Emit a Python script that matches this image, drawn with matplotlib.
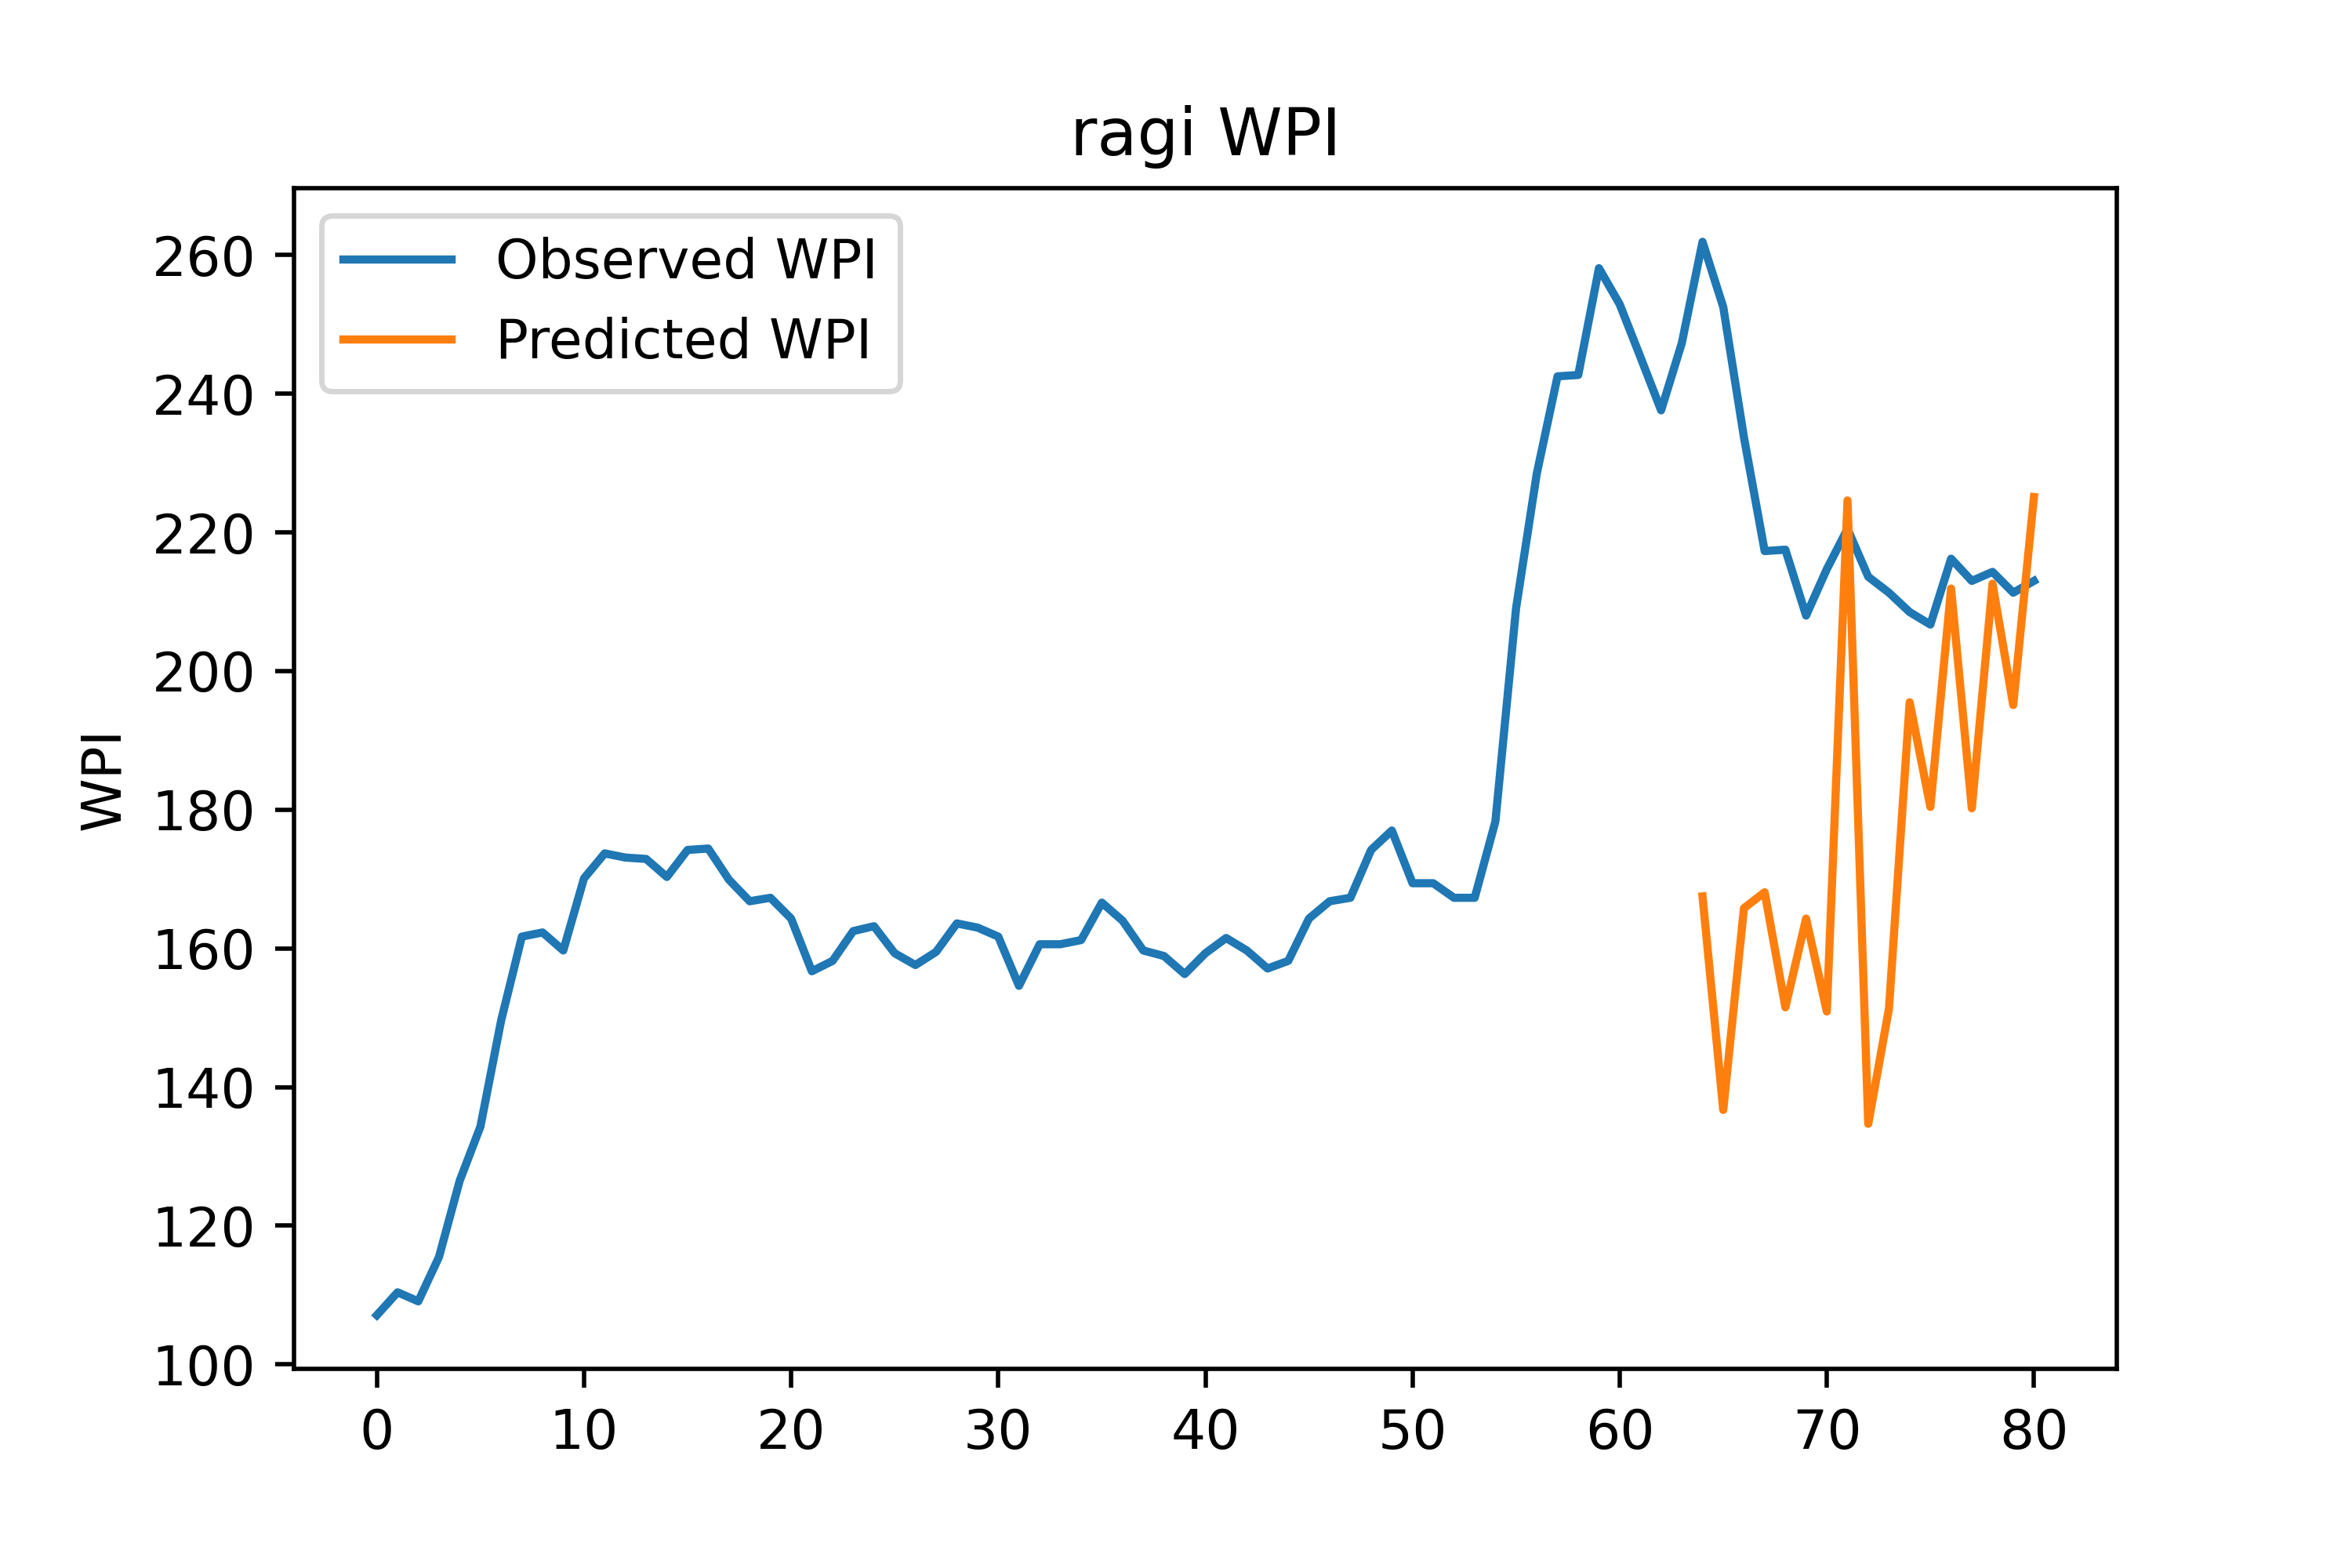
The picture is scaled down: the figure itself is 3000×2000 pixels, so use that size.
import matplotlib
matplotlib.use("Agg")
import matplotlib.pyplot as plt

observed = [107.1, 110.4, 109.1, 115.5, 126.5, 134.3, 149.6, 161.7, 162.3, 159.7,
            170.1, 173.7, 173.1, 172.9, 170.3, 174.2, 174.4, 169.9, 166.8, 167.3,
            164.3, 156.7, 158.2, 162.5, 163.2, 159.3, 157.6, 159.5, 163.6, 163.0,
            161.7, 154.6, 160.6, 160.6, 161.2, 166.6, 164.0, 159.7, 158.9, 156.3,
            159.3, 161.5, 159.7, 157.1, 158.2, 164.3, 166.8, 167.3, 174.2, 177.0,
            169.4, 169.4, 167.3, 167.3, 178.3, 209.1, 228.5, 242.5, 242.7, 258.1,
            252.9, 245.3, 237.6, 247.3, 261.9, 252.5, 233.7, 217.3, 217.5, 208.0,
            214.7, 220.5, 213.6, 211.3, 208.5, 206.7, 216.2, 213.0, 214.3, 211.3,
            213.0]
obs_x = list(range(len(observed)))

predicted = [167.5, 136.7, 165.8, 168.1, 151.5, 164.3, 150.9, 224.6, 134.7,
             151.3, 195.5, 180.4, 211.9, 180.2, 212.6, 195.1, 225.1]
pred_x = list(range(64, 64 + len(predicted)))

fig, ax = plt.subplots(figsize=(6, 4), dpi=500)
fig.subplots_adjust(bottom=0.127)
ax.plot(obs_x, observed, label="Observed WPI")
ax.plot(pred_x, predicted, label="Predicted WPI")
ax.set_title("ragi WPI")
ax.set_ylabel("WPI")
ax.legend(loc="upper left")
fig.savefig("out.png")
